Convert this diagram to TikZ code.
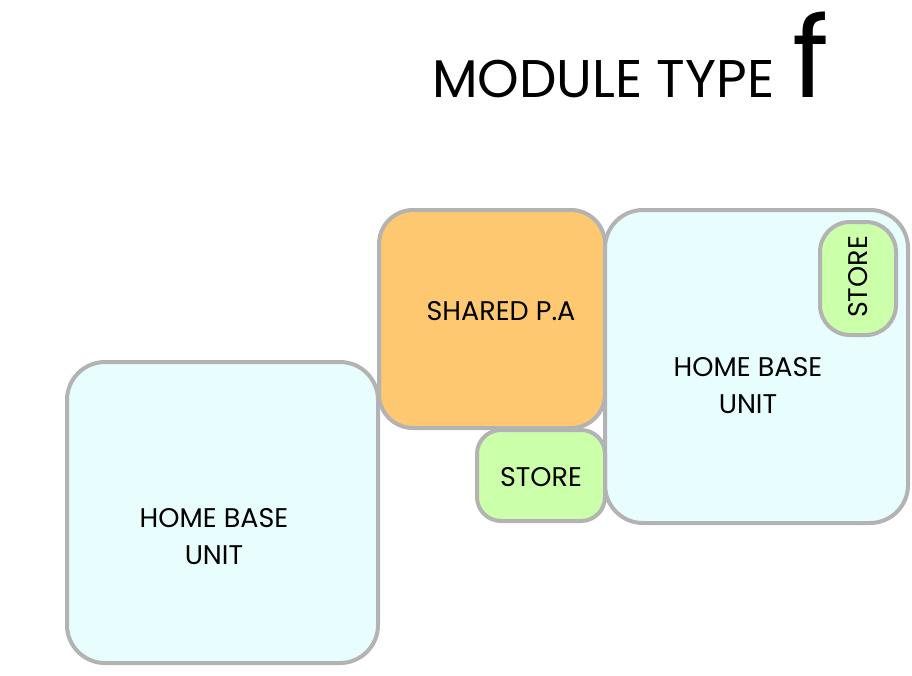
\documentclass[tikz,border=0pt]{standalone}
\usepackage{fontspec}
\setmainfont{Poppins}
\definecolor{bordergray}{HTML}{B3B3B3}
\definecolor{cyanfill}{HTML}{E8FDFD}
\definecolor{orangefill}{HTML}{FDC870}
\definecolor{greenfill}{HTML}{CCFFAA}
\tikzset{
  room/.style={draw=bordergray, line width=4pt, rounded corners=#1, inner sep=0pt},
  label/.style={font=\fontsize{27}{37}\selectfont, align=center, text=black, inner sep=0pt}
}
\begin{document}
\begin{tikzpicture}[x=1pt,y=-1pt]
\useasboundingbox[fill=white] (0,0) rectangle (912,675);
% title
\node[anchor=base west, inner sep=0pt, font=\fontsize{53}{60}\selectfont] (title) at (432,97) {MODULE TYPE};
\node[anchor=base west, inner sep=0pt, font=\fontsize{112}{120}\selectfont] (tf) at (792,97) {f};
% boxes
\node[room=38pt, fill=cyanfill, minimum width=311pt, minimum height=301pt] (homeL) at (222.5,512.5) {};
\node[room=34pt, fill=orangefill, minimum width=226pt, minimum height=218pt] (shared) at (492,319) {};
\node[room=38pt, fill=cyanfill, minimum width=303pt, minimum height=313pt] (homeR) at (756.5,366.5) {};
\node[room=30pt, fill=greenfill, minimum width=76pt, minimum height=113pt] (storeR) at (858,278.5) {};
\node[room=24pt, fill=greenfill, minimum width=128pt, minimum height=91pt] (storeB) at (541,475.5) {};
% labels
\node[label] (homeLt) at (214,537) {HOME BASE\\UNIT};
\node[label] (sharedt) at (501,311) {SHARED P.A};
\node[label] (homeRt) at (748,386) {HOME BASE\\UNIT};
\node[label] (storeBt) at (541,477) {STORE};
\node[label, rotate=90] (storeRt) at (858,277) {STORE};
\end{tikzpicture}
\end{document}
